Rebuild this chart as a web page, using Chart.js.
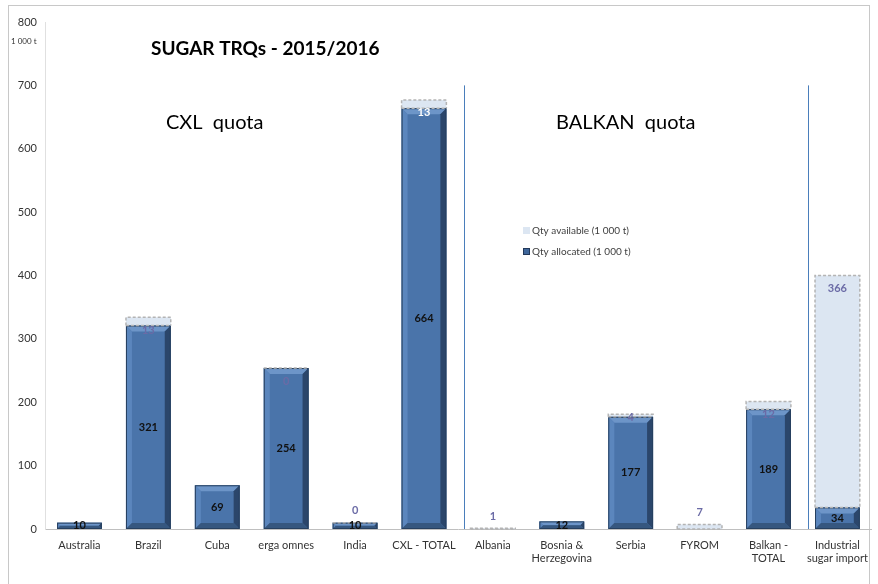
<!DOCTYPE html>
<html>
<head>
<meta charset="utf-8">
<script src="https://cdn.jsdelivr.net/npm/chart.js@4"></script>
<style>
  html, body { margin: 0; padding: 0; background: #fff; }
  #wrap { position: relative; width: 878px; height: 584px; overflow: hidden; }
  #frame { position: absolute; left: 8px; top: 5px; width: 862px; height: 600px; border: 1px solid #c8c8c8; box-sizing: border-box; }
  canvas { position: absolute; left: 0; top: 0; }
</style>
</head>
<body>
<div id="wrap">
  <div id="frame"></div>
  <canvas id="myChart" width="878" height="584"></canvas>
</div>
<script>
const categories = [
  "Australia", "Brazil", "Cuba", "erga omnes", "India", "CXL - TOTAL",
  "Albania", ["Bosnia &", "Herzegovina"], "Serbia", "FYROM",
  ["Balkan -", "TOTAL"], ["Industrial", "sugar import"]
];
// 1 000 t
const allocated = [10, 321, 69, 254, 10, 664, 0, 12, 177, 0, 189, 34];
const available = [null, 13, null, 0, 0, 13, 1, null, 4, 7, 12, 366];
const yTicks = [0, 100, 200, 300, 400, 500, 600, 700, 800];

const FONT = "Lato, 'Open Sans', sans-serif";

// bevelled look for the allocated bars
const bevelPlugin = {
  id: "bevel",
  afterDatasetsDraw(chart) {
    const ctx = chart.ctx;
    const meta = chart.getDatasetMeta(0);
    meta.data.forEach((bar, i) => {
      if (!allocated[i]) return;
      const p = bar.getProps(["x", "y", "base", "width"], true);
      const l = p.x - p.width / 2, r = p.x + p.width / 2;
      const t = p.y, b = p.base;
      const h = b - t;
      const d = Math.min(6, h / 2);
      ctx.save();
      // top
      ctx.fillStyle = "#6d95c8";
      ctx.beginPath();
      ctx.moveTo(l, t); ctx.lineTo(r, t); ctx.lineTo(r - d, t + d); ctx.lineTo(l + d, t + d); ctx.closePath(); ctx.fill();
      // left
      ctx.fillStyle = "#5b86bd";
      ctx.beginPath();
      ctx.moveTo(l, t); ctx.lineTo(l + d, t + d); ctx.lineTo(l + d, b - d); ctx.lineTo(l, b); ctx.closePath(); ctx.fill();
      // right
      ctx.fillStyle = "#2b466b";
      ctx.beginPath();
      ctx.moveTo(r, t); ctx.lineTo(r - d, t + d); ctx.lineTo(r - d, b - d); ctx.lineTo(r, b); ctx.closePath(); ctx.fill();
      // bottom
      ctx.fillStyle = "#36577f";
      ctx.beginPath();
      ctx.moveTo(l, b); ctx.lineTo(l + d, b - d); ctx.lineTo(r - d, b - d); ctx.lineTo(r, b); ctx.closePath(); ctx.fill();
      ctx.strokeStyle = "#27405f";
      ctx.lineWidth = 1;
      ctx.strokeRect(l + 0.5, t + 0.5, p.width - 1, h - 1);
      ctx.restore();
    });

    // dashed outline on the available segments
    const meta2 = chart.getDatasetMeta(1);
    meta2.data.forEach((bar, i) => {
      if (available[i] === null) return;
      const p = bar.getProps(["x", "y", "base", "width"], true);
      const l = p.x - p.width / 2, r = p.x + p.width / 2;
      ctx.save();
      ctx.strokeStyle = "#b4b4b4";
      ctx.setLineDash([3, 2]);
      ctx.lineWidth = 1.5;
      ctx.beginPath();
      ctx.moveTo(l, p.base); ctx.lineTo(l, p.y); ctx.lineTo(r, p.y); ctx.lineTo(r, p.base);
      ctx.moveTo(l, p.base); ctx.lineTo(r, p.base);
      ctx.stroke();
      ctx.restore();
    });
  }
};

// value labels, separators, titles, legend
const decorPlugin = {
  id: "decor",
  afterDraw(chart) {
    const ctx = chart.ctx;
    const xs = chart.scales.x, ys = chart.scales.y;
    ctx.save();

    // section separators (sit a little right of the category boundary)
    ctx.strokeStyle = "#4a7ebb";
    ctx.lineWidth = 1;
    [5, 10].forEach(v => {
      const a = xs.getPixelForValue(v), b = xs.getPixelForValue(v + 1);
      const x = Math.round(a + (b - a) * 0.58) + 0.5;
      ctx.beginPath();
      ctx.moveTo(x, ys.getPixelForValue(700));
      ctx.lineTo(x, ys.getPixelForValue(0));
      ctx.stroke();
    });

    // allocated labels
    ctx.textAlign = "center";
    ctx.textBaseline = "middle";
    ctx.font = "bold 11px " + FONT;
    ctx.fillStyle = "#111";
    chart.getDatasetMeta(0).data.forEach((bar, i) => {
      if (!allocated[i]) return;
      const p = bar.getProps(["x", "y", "base"], true);
      ctx.fillText(String(allocated[i]), p.x, (p.y + p.base) / 2);
    });

    // available labels
    chart.getDatasetMeta(1).data.forEach((bar, i) => {
      if (available[i] === null) return;
      const p = bar.getProps(["x", "y", "base"], true);
      const total = allocated[i] + available[i];
      let y, col = "#6b6ba6";
      if (total > 40) {
        y = (available[i] > 0 && available[i] < 10) ? p.y + 3 : p.y + 13;
        if (i === 5) col = "#ffffff";
      } else {
        y = p.y - 12;
      }
      ctx.fillStyle = col;
      ctx.font = "bold 11px " + FONT;
      ctx.fillText(String(available[i]), p.x, y);
    });

    // unit
    ctx.textAlign = "left";
    ctx.fillStyle = "#333";
    ctx.font = "8px " + FONT;
    ctx.fillText("1 000 t", 11, 41);

    // title and section captions
    ctx.fillStyle = "#000";
    ctx.font = "bold 19px " + FONT;
    ctx.fillText("SUGAR TRQs - 2015/2016", 151, 49);
    ctx.font = "20px " + FONT;
    ctx.fillText("CXL  quota", 166, 123);
    ctx.fillText("BALKAN  quota", 556, 123);

    // legend
    ctx.font = "10px " + FONT;
    ctx.fillStyle = "#dce6f2";
    ctx.fillRect(523, 227, 7, 7);
    ctx.fillStyle = "#3f679b";
    ctx.fillRect(523, 248, 7, 7);
    ctx.strokeStyle = "#23395a";
    ctx.strokeRect(523.5, 248.5, 6, 6);
    ctx.fillStyle = "#404040";
    ctx.fillText("Qty available (1 000 t)", 532, 231);
    ctx.fillText("Qty allocated (1 000 t)", 532, 252);

    ctx.restore();
  }
};

const ctx = document.getElementById("myChart").getContext("2d");
new Chart(ctx, {
  type: "bar",
  data: {
    labels: categories,
    datasets: [
      {
        label: "Qty allocated (1 000 t)",
        data: allocated,
        backgroundColor: "#4a74aa",
        borderWidth: 0,
        stack: "s",
      },
      {
        label: "Qty available (1 000 t)",
        data: available,
        backgroundColor: "#dce6f2",
        borderWidth: 0,
        stack: "s",
      },
    ],
  },
  options: {
    responsive: false,
    animation: false,
    devicePixelRatio: 1,
    layout: { padding: { left: 0, right: 3, top: 22, bottom: 0 } },
    datasets: { bar: { categoryPercentage: 1, barPercentage: 0.65 } },
    plugins: {
      legend: { display: false },
      tooltip: { enabled: false },
    },
    scales: {
      x: {
        stacked: true,
        grid: { display: false, drawTicks: false },
        border: { color: "#bfbfbf", width: 1 },
        ticks: {
          color: "#333",
          font: { family: FONT, size: 11 },
          padding: 10,
          maxRotation: 0,
          autoSkip: false,
        },
        afterFit: s => { s.height = 55; },
      },
      y: {
        stacked: true,
        min: 0,
        max: 800,
        afterBuildTicks: s => { s.ticks = yTicks.map(v => ({ value: v })); },
        grid: { display: false, drawTicks: false },
        border: { color: "#e0e0e0", width: 1 },
        ticks: {
          color: "#333",
          font: { family: FONT, size: 11 },
          padding: 8,
        },
        afterFit: s => { s.width = 45; },
      },
    },
  },
  plugins: [bevelPlugin, decorPlugin],
});
</script>
</body>
</html>
